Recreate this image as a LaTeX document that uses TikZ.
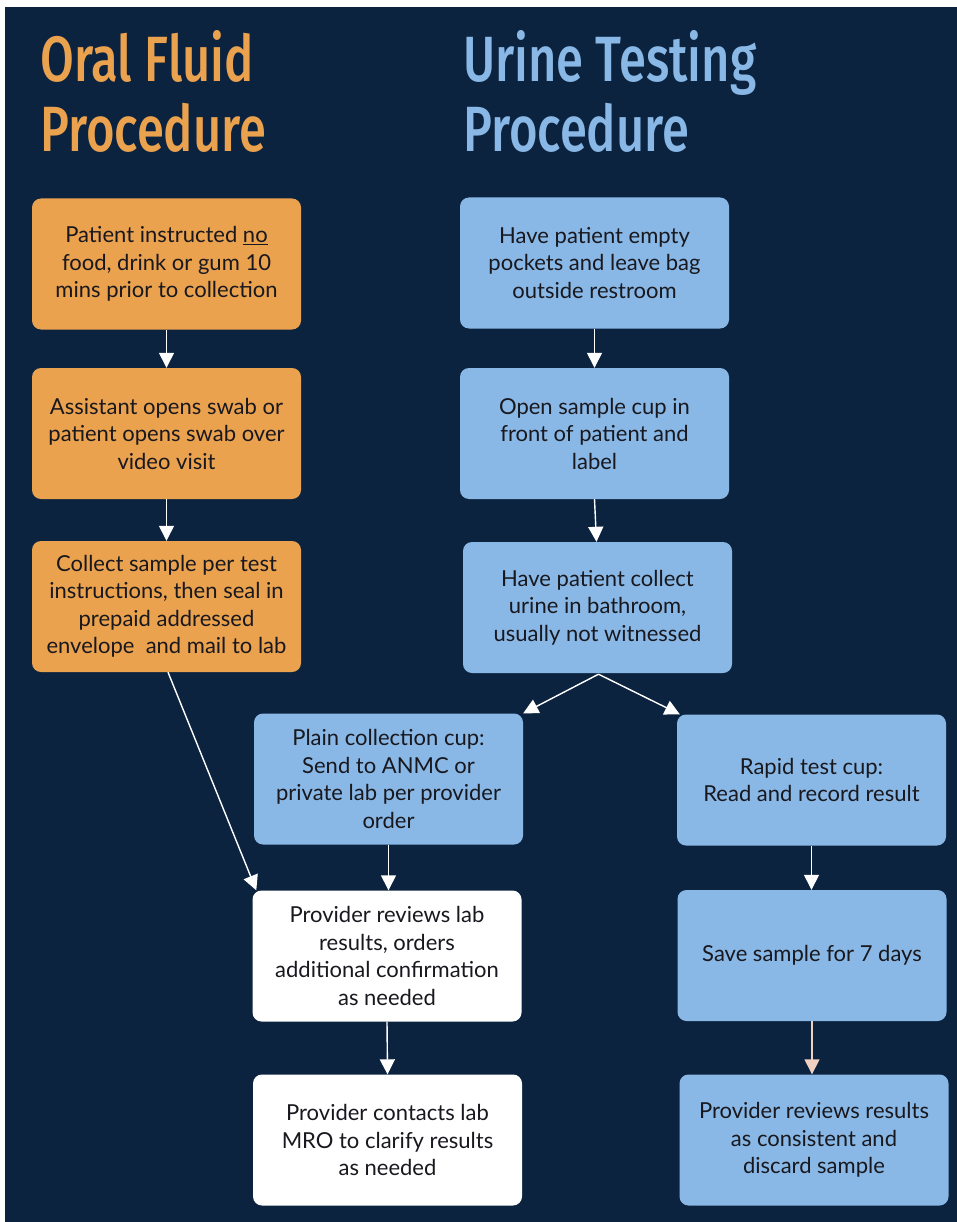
\documentclass[tikz,border=0pt]{standalone}
\usepackage{fontspec}
\setmainfont{Lato}
\newfontfamily\titlefont[FakeStretch=0.765]{Fira Sans Medium}
\usetikzlibrary{arrows.meta,calc}

\definecolor{navy}{RGB}{12,35,64}
\definecolor{oral}{RGB}{235,162,79}
\definecolor{urine}{RGB}{137,184,230}
\definecolor{ink}{RGB}{24,24,30}
\definecolor{peach}{RGB}{240,208,192}

\tikzset{
  stepbox/.style={rounded corners=9pt, minimum width=269pt, minimum height=131pt,
    align=center, inner sep=0pt, text=ink,
    font=\fontsize{22}{27.5}\selectfont},
  oralbox/.style={stepbox, fill=oral},
  urinebox/.style={stepbox, fill=urine},
  whitebox/.style={stepbox, fill=white},
  heading/.style={anchor=base west, inner sep=0pt, font=\titlefont\fontsize{64}{70}\selectfont},
  flow/.style={draw=white, line width=1.4pt, -{Triangle[width=15pt,length=15pt]}},
}

\begin{document}
\begin{tikzpicture}[x=1pt,y=-1pt]
  % page and navy panel
  \fill[white] (0,0) rectangle (957,1222);
  \fill[navy] (5,7) rectangle (957,1222);
  \useasboundingbox (0,0) rectangle (957,1222);

  % headings
  \node[heading, text=oral] (oralA) at (40,82) {Oral Fluid};
  \node[heading, text=oral] (oralB) at (40,152) {Procedure};
  \node[heading, text=urine] (urineA) at (463,82) {Urine Testing};
  \node[heading, text=urine] (urineB) at (463,152) {Procedure};

  % oral fluid column
  \node[oralbox] (O1) at (166.5,264) {Patient instructed \underline{no}\\food, drink or gum 10\\mins prior to collection};
  \node[oralbox] (O2) at (166.5,433.5) {Assistant opens swab or\\patient opens swab over\\video visit};
  \node[oralbox] (O3) at (166.5,606.5) {Collect sample per test\\instructions, then seal in\\prepaid addressed\\envelope\ \ and mail to lab};

  % urine testing column
  \node[urinebox] (U1) at (594.5,263) {Have patient empty\\pockets and leave bag\\outside restroom};
  \node[urinebox] (U2) at (594.5,433.5) {Open sample cup in\\front of patient and\\label};
  \node[urinebox] (U3) at (597.5,607.5) {Have patient collect\\urine in bathroom,\\usually not witnessed};
  \node[urinebox] (U4) at (388.5,779) {Plain collection cup:\\Send to ANMC or\\private lab per provider\\order};
  \node[urinebox] (U5) at (811.5,780) {Rapid test cup:\\Read and record result};
  \node[urinebox] (U6) at (812,955.5) {Save sample for 7 days};
  \node[urinebox] (U7) at (814,1140) {Provider reviews results\\as consistent and\\discard sample};

  % provider steps
  \node[whitebox] (W1) at (387,956) {Provider reviews lab\\results, orders\\additional confirmation\\as needed};
  \node[whitebox] (W2) at (387.5,1140) {Provider contacts lab\\MRO to clarify results\\as needed};

  % connectors
  \draw[flow] (O1.south) -- (O2.north);
  \draw[flow] (O2.south) -- (O3.north);
  \draw[flow] ($(O3.south)+(1.5,0)$) -- ($(W1.north west)+(4,0)$);
  \draw[flow] (U1.south) -- (U2.north);
  \draw[flow] (U2.south) -- ($(U3.north)+(-1,0)$);
  \coordinate (split) at ($(U3.south)+(1,1)$);
  \draw[flow] (split) -- (U4.north east);
  \draw[flow] (split) -- ($(U5.north west)+(3,0)$);
  \draw[flow] (U4.south) -- (U4.south |- W1.north);
  \draw[flow] (U5.south) -- (U5.south |- U6.north);
  \draw[flow, draw=peach] (U6.south) -- (U6.south |- U7.north);
  \draw[flow] (W1.south) -- (W2.north);
\end{tikzpicture}
\end{document}
